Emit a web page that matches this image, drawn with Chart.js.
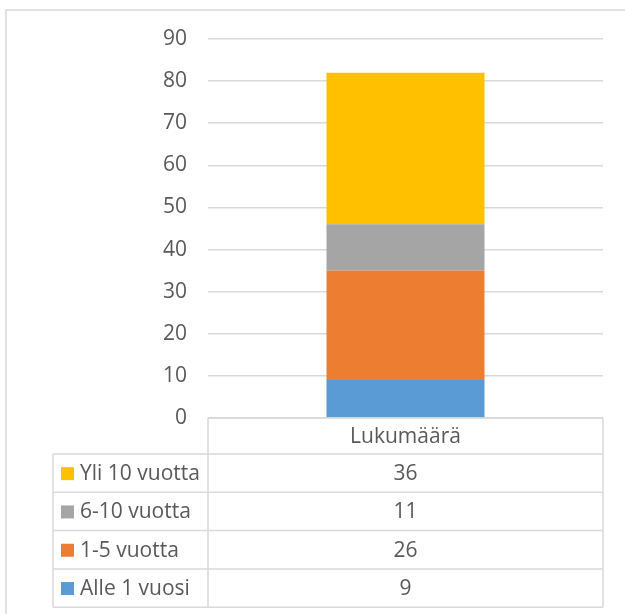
<!DOCTYPE html>
<html>
<head>
<meta charset="utf-8">
<script src="https://cdn.jsdelivr.net/npm/chart.js@4/dist/chart.umd.min.js"></script>
<style>
  body { margin: 0; background: #fff; }
  canvas { display: block; }
</style>
</head>
<body>
<canvas id="chart" width="625" height="614"></canvas>
<script>
// Data
const categories = ['Lukumäärä'];
const seriesNames = ['Alle 1 vuosi', '1-5 vuotta', '6-10 vuotta', 'Yli 10 vuotta'];
const alle1 = [9];
const v1to5 = [26];
const v6to10 = [11];
const yli10 = [36];
const yTicks = [0, 10, 20, 30, 40, 50, 60, 70, 80, 90];

const colors = ['#5b9bd5', '#ed7d31', '#a5a5a5', '#ffc000'];
const textColor = '#595959';
const lineColor = '#d9d9d9';
const font = '"Open Sans", sans-serif';

// Outer frame + data table under the plot
const tablePlugin = {
  id: 'dataTable',
  afterDraw(chart) {
    const ctx = chart.ctx;
    const area = chart.chartArea;
    const datasets = chart.data.datasets;
    const labelLeft = 53;
    const headH = 36;
    const rowH = 38.3;
    const top = area.bottom;

    ctx.save();
    ctx.strokeStyle = lineColor;
    ctx.lineWidth = 1.5;
    // frame around everything
    ctx.strokeRect(6, 10, 700, 700);

    const rowsTop = top + headH;
    const bottom = rowsTop + rowH * datasets.length;

    // header cell + grid of the table
    ctx.beginPath();
    ctx.moveTo(area.left, top); ctx.lineTo(area.right, top);
    ctx.moveTo(area.left, top); ctx.lineTo(area.left, bottom);
    ctx.moveTo(area.right, top); ctx.lineTo(area.right, bottom);
    ctx.moveTo(labelLeft, rowsTop); ctx.lineTo(labelLeft, bottom);
    for (let i = 0; i <= datasets.length; i++) {
      const y = rowsTop + rowH * i;
      ctx.moveTo(labelLeft, y); ctx.lineTo(area.right, y);
    }
    ctx.stroke();

    ctx.font = '21px ' + font;
    ctx.fillStyle = textColor;
    ctx.textBaseline = 'middle';
    ctx.textAlign = 'center';
    const xs = chart.scales.x;
    categories.forEach((c, i) => {
      ctx.fillText(c, xs.getPixelForValue(i), top + headH / 2 + 1);
    });

    // rows: top row is the last dataset (top of stack)
    const order = datasets.map((d, i) => i).reverse();
    order.forEach((di, r) => {
      const ds = datasets[di];
      const cy = rowsTop + rowH * r + rowH / 2 + 1;
      ctx.fillStyle = ds.backgroundColor;
      ctx.fillRect(61, cy - 7, 13, 13);
      ctx.fillStyle = textColor;
      ctx.textAlign = 'left';
      ctx.fillText(ds.label, 80, cy);
      ctx.textAlign = 'center';
      ds.data.forEach((v, i) => {
        ctx.fillText(String(v), xs.getPixelForValue(i), cy);
      });
    });
    ctx.restore();
  }
};

const seriesValues = [alle1, v1to5, v6to10, yli10];

new Chart(document.getElementById('chart'), {
  type: 'bar',
  data: {
    labels: categories,
    datasets: seriesNames.map((name, i) => ({
      label: name,
      data: seriesValues[i],
      backgroundColor: colors[i],
      categoryPercentage: 1,
      barPercentage: 0.4
    }))
  },
  options: {
    responsive: false,
    devicePixelRatio: 1,
    animation: false,
    layout: { padding: { left: 0, right: 22, top: 39, bottom: 196 } },
    plugins: {
      legend: { display: false },
      tooltip: { enabled: false }
    },
    scales: {
      x: { stacked: true, display: false },
      y: {
        stacked: true,
        min: yTicks[0],
        max: yTicks[yTicks.length - 1],
        afterFit(scale) { scale.width = 208; },
        afterBuildTicks(scale) { scale.ticks = yTicks.map(v => ({ value: v })); },
        border: { display: false },
        grid: { color: lineColor, lineWidth: 1.5, drawTicks: false },
        ticks: {
          padding: 21,
          color: textColor,
          font: { family: font, size: 21 }
        }
      }
    }
  },
  plugins: [tablePlugin]
});
</script>
</body>
</html>
